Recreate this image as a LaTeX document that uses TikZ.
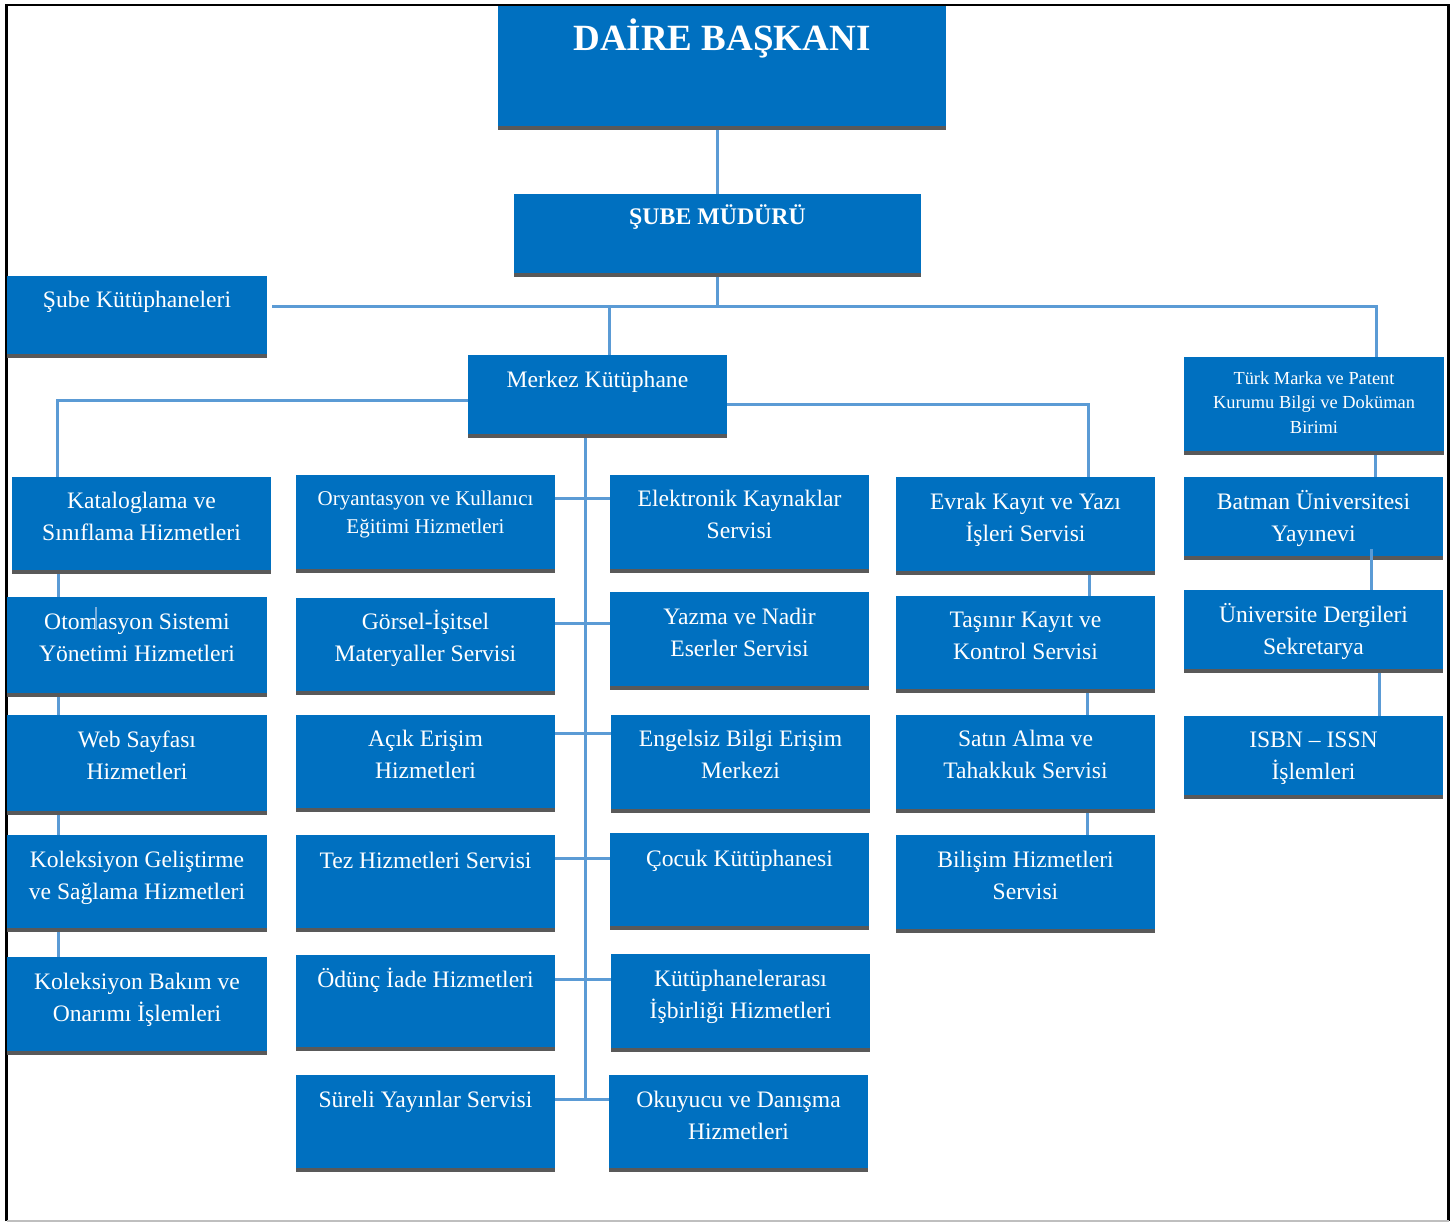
\documentclass[tikz,border=0pt]{standalone}
\usepackage{fontspec}
\setmainfont{Liberation Serif}
\definecolor{boxc}{HTML}{0070C0}
\definecolor{shc}{HTML}{595959}
\definecolor{linec}{HTML}{5B9BD5}
\tikzset{
  boxs/.style={fill=boxc, draw=none, inner sep=0pt, outer sep=0pt},
  conn/.style={draw=linec, line width=3pt},
  txt/.style={text=white, align=center, inner sep=0pt, font=\fontsize{23.6}{32}\selectfont},
  txtsm/.style={text=white, align=center, inner sep=0pt, font=\fontsize{21}{28}\selectfont},
  txtxs/.style={text=white, align=center, inner sep=0pt, font=\fontsize{18.4}{24.5}\selectfont},
}
% name, x1, y1, x2, y2
\newcommand\obox[5]{%
  \node[boxs, minimum width={#4-#2}, minimum height={#5-#3}] (#1) at ({(#2+#4)/2},{(#3+#5)/2}) {};
  \fill[shc] (#1.south west) rectangle ([yshift=4pt]#1.south east);
}
% name, style, baseline y of last line, text
\newcommand\otext[4]{%
  \node[#2, anchor=base] (#1-t) at (#1.north |- {0,#3}) {#4};
}
\begin{document}
\begin{tikzpicture}[x=1pt,y=-1pt]
\useasboundingbox (0,0) rectangle (1454,1222);
\fill[white] (0,0) rectangle (1454,1222);
% frame
\draw[black, line width=2.6pt] (6.5,1221) -- (6.5,5) -- (1448.5,5) -- (1448.5,1221);
\draw[black!25, line width=1.5pt] (6.5,1221) -- (1448.5,1221);

% boxes
\obox{daire}{498}{6}{946}{130}
\obox{mudur}{514}{194}{921}{277}
\obox{subek}{7}{276}{267}{358}
\obox{merkez}{468}{355}{727}{438}
\obox{turk}{1184}{357}{1444}{455}

\obox{kat}{12}{477}{271}{574}
\obox{oto}{7}{597}{267}{697}
\obox{web}{7}{715}{267}{815}
\obox{kolg}{7}{835}{267}{932}
\obox{kolb}{7}{957}{267}{1055}

\obox{ory}{296}{475}{555}{573}
\obox{gor}{296}{598}{555}{695}
\obox{acik}{296}{715}{555}{812}
\obox{tez}{296}{835}{555}{932}
\obox{odunc}{296}{955}{555}{1051}
\obox{sureli}{296}{1075}{555}{1172}

\obox{elek}{610}{475}{869}{573}
\obox{yazma}{610}{592}{869}{690}
\obox{engel}{611}{715}{870}{813}
\obox{cocuk}{610}{833}{869}{930}
\obox{kutar}{611}{954}{870}{1052}
\obox{okuy}{609}{1075}{868}{1172}

\obox{evrak}{896}{477}{1155}{575}
\obox{tasinir}{896}{596}{1155}{693}
\obox{satin}{896}{715}{1155}{813}
\obox{bilisim}{896}{835}{1155}{933}

\obox{batman}{1184}{477}{1443}{560}
\obox{dergi}{1184}{590}{1443}{673}
\obox{isbn}{1184}{716}{1443}{799}

% coordinates for connectors
\coordinate (busL) at (272,307);
\coordinate (busR) at (1378,307);
\coordinate (xMer) at (609,0);
\coordinate (xTurk) at (1376,0);
\coordinate (mL) at (57,401);
\coordinate (mR) at (1088,405);
\coordinate (xC1) at (58,0);
\coordinate (xC4a) at (1089,0);
\coordinate (xC4b) at (1087,0);
\coordinate (spX) at (585,0);
\coordinate (spB) at (585,1099);
\coordinate (xR1) at (1375,0);
\coordinate (xR2) at (1371,0);
\coordinate (xR3) at (1379,0);
\coordinate (batIn) at (1371,549);
\coordinate (tickA) at (96,607);
\coordinate (tickB) at (96,630);

% connectors
\draw[conn] (mudur.north) -- (mudur.north |- daire.south);
\draw[conn] (mudur.south) -- (mudur.south |- busR);
\draw[conn] (busL) -- (busR);
\draw[conn] (xMer |- busR) -- (xMer |- merkez.north);
\draw[conn] (xTurk |- busR) -- (xTurk |- turk.north);
\draw[conn] (merkez.west |- mL) -- (mL) -- (mL |- kat.north);
\draw[conn] (merkez.east |- mR) -- (mR) -- (mR |- evrak.north);
\draw[conn] (xC1 |- kat.south) -- (xC1 |- oto.north);
\draw[conn] (xC1 |- oto.south) -- (xC1 |- web.north);
\draw[conn] (xC1 |- web.south) -- (xC1 |- kolg.north);
\draw[conn] (xC1 |- kolg.south) -- (xC1 |- kolb.north);
\draw[conn] (xC4a |- evrak.south) -- (xC4a |- tasinir.north);
\draw[conn] (xC4b |- tasinir.south) -- (xC4b |- satin.north);
\draw[conn] (xC4b |- satin.south) -- (xC4b |- bilisim.north);
\draw[conn] (spX |- merkez.south) -- (spB);
\draw[conn] (ory.east |- {0,498}) -- (elek.west |- {0,498});
\draw[conn] (gor.east |- {0,623}) -- (yazma.west |- {0,623});
\draw[conn] (acik.east |- {0,733}) -- (engel.west |- {0,733});
\draw[conn] (tez.east |- {0,858}) -- (cocuk.west |- {0,858});
\draw[conn] (odunc.east |- {0,979}) -- (kutar.west |- {0,979});
\draw[conn] (sureli.east |- spB) -- (okuy.west |- spB);
\draw[conn] (xR1 |- turk.south) -- (xR1 |- batman.north);
\draw[conn] (batIn) -- (xR2 |- dergi.north);
\draw[conn] (xR3 |- dergi.south) -- (xR3 |- isbn.north);

% texts
\node[text=white, anchor=base, inner sep=0pt, font=\fontsize{37}{40}\selectfont\bfseries] (daire-t) at (daire.north |- {0,51}) {DAİRE BAŞKANI};
\node[text=white, anchor=base, inner sep=0pt, font=\fontsize{23.8}{30}\selectfont\bfseries] (mudur-t) at (mudur.north |- {0,225}) {ŞUBE MÜDÜRÜ};
\otext{subek}{txt}{308}{Şube Kütüphaneleri}
\otext{merkez}{txt}{388}{Merkez Kütüphane}
\otext{turk}{txtxs}{433}{Türk Marka ve Patent\\Kurumu Bilgi ve Doküman\\Birimi}

\otext{kat}{txt}{540}{Kataloglama ve\\Sınıflama Hizmetleri}
\otext{oto}{txt}{661}{Otomasyon Sistemi\\Yönetimi Hizmetleri}
\otext{web}{txt}{779}{Web Sayfası\\Hizmetleri}
\otext{kolg}{txt}{899}{Koleksiyon Geliştirme\\ve Sağlama Hizmetleri}
\otext{kolb}{txt}{1021}{Koleksiyon Bakım ve\\Onarımı İşlemleri}

\otext{ory}{txtsm}{533}{Oryantasyon ve Kullanıcı\\Eğitimi Hizmetleri}
\otext{gor}{txt}{661}{Görsel-İşitsel\\Materyaller Servisi}
\otext{acik}{txt}{778}{Açık Erişim\\Hizmetleri}
\otext{tez}{txt}{868}{Tez Hizmetleri Servisi}
\otext{odunc}{txt}{987}{Ödünç İade Hizmetleri}
\otext{sureli}{txt}{1107}{Süreli Yayınlar Servisi}

\otext{elek}{txt}{538}{Elektronik Kaynaklar\\Servisi}
\otext{yazma}{txt}{656}{Yazma ve Nadir\\Eserler Servisi}
\otext{engel}{txt}{778}{Engelsiz Bilgi Erişim\\Merkezi}
\otext{cocuk}{txt}{866}{Çocuk Kütüphanesi}
\otext{kutar}{txt}{1018}{Kütüphanelerarası\\İşbirliği Hizmetleri}
\otext{okuy}{txt}{1139}{Okuyucu ve Danışma\\Hizmetleri}

\otext{evrak}{txt}{541}{Evrak Kayıt ve Yazı\\İşleri Servisi}
\otext{tasinir}{txt}{659}{Taşınır Kayıt ve\\Kontrol Servisi}
\otext{satin}{txt}{778}{Satın Alma ve\\Tahakkuk Servisi}
\otext{bilisim}{txt}{899}{Bilişim Hizmetleri\\Servisi}

\otext{batman}{txt}{541}{Batman Üniversitesi\\Yayınevi}
\otext{dergi}{txt}{654}{Üniversite Dergileri\\Sekretarya}
\otext{isbn}{txt}{779}{ISBN – ISSN\\İşlemleri}

% small stray mark in the reference
\draw[linec!80!white, line width=1.2pt] (tickA) -- (tickB);
\end{tikzpicture}
\end{document}
